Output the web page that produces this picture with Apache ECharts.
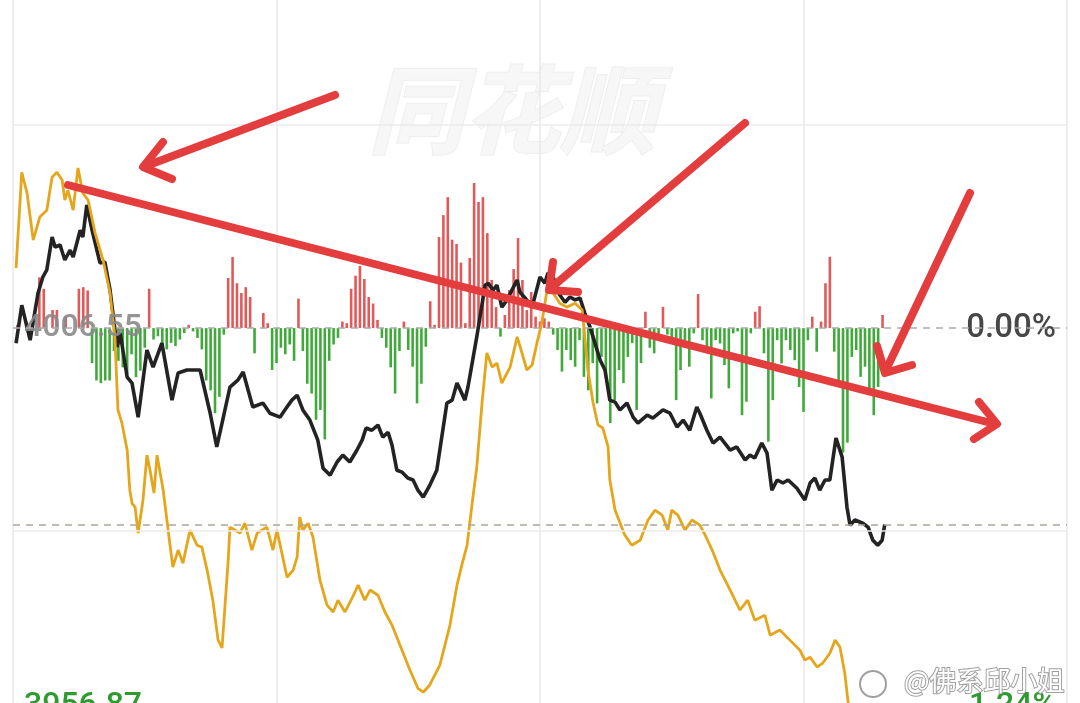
<!DOCTYPE html>
<html>
<head>
<meta charset="utf-8">
<script src="https://cdn.jsdelivr.net/npm/echarts@6/dist/echarts.min.js"></script>
<style>
html,body{margin:0;padding:0;background:#fff;}
#c{width:1080px;height:703px;}
</style>
</head>
<body>
<div id="c"></div>
<script>
// ---- data (minutes since 9:30 on the trading clock, % change vs. previous close) ----
const prevClose = 4006.55;
const visiblePctTop = 1.002;        // % at the top edge of the visible window
const visiblePctBottom = -1.145;    // % at the bottom edge of the visible window
const gridPct = [0.62, -0.62];      // light horizontal grid lines
const lastPct = -0.60;              // latest price level (dashed line)
const priceLabels = ['4006.55', '3956.87'];
const pctLabels = ['0.00%', '-1.24%'];

// black line: index % change [minute, pct]
const indexLine = [
[0.7,-0.046],[2.0,0.070],[3.9,-0.037],[5.7,0.107],[6.8,0.156],[7.7,0.178],[8.9,0.278],[9.6,0.247],
[10.7,0.254],[11.8,0.208],[13.0,0.238],[13.7,0.217],[15.3,0.299],[15.9,0.278],[16.8,0.376],[18.0,0.299],
[19.8,0.199],[20.9,0.202],[22.1,0.116],[23.7,-0.058],[24.4,-0.015],[26.0,-0.150],[27.1,-0.168],[28.5,-0.272],
[30.5,-0.067],[31.9,-0.119],[33.9,-0.046],[36.2,-0.220],[37.6,-0.137],[39.6,-0.128],[42.6,-0.128],[44.9,-0.260],
[46.4,-0.363],[47.6,-0.290],[49.4,-0.180],[51.2,-0.159],[52.4,-0.134],[54.6,-0.241],[56.9,-0.229],[58.5,-0.260],
[60.8,-0.272],[61.9,-0.250],[63.5,-0.220],[64.7,-0.205],[66.0,-0.250],[67.6,-0.281],[69.4,-0.342],[70.6,-0.428],
[72.2,-0.449],[73.8,-0.409],[75.1,-0.388],[76.7,-0.409],[78.3,-0.373],[79.5,-0.342],[80.4,-0.305],[81.7,-0.312],
[83.1,-0.296],[84.2,-0.333],[85.4,-0.318],[86.3,-0.357],[87.4,-0.434],[88.6,-0.440],[89.9,-0.458],[91.1,-0.464],
[92.2,-0.495],[93.4,-0.516],[94.9,-0.480],[96.5,-0.434],[98.8,-0.229],[100.0,-0.220],[101.1,-0.168],[102.9,-0.220],
[103.6,-0.180],[105.6,-0.027],[107.5,0.131],[108.2,0.137],[109.3,0.116],[110.2,0.131],[111.3,0.064],[112.5,0.086],
[113.6,0.116],[114.8,0.147],[115.4,0.110],[116.6,0.092],[118.2,0.064],[120.0,0.156],[121.1,0.137],[121.8,0.168],
[123.0,0.156],[124.5,0.101],[125.7,0.079],[126.8,0.095],[128.0,0.086],[129.1,0.092],[130.2,0.046],[131.4,0.003],
[133.7,-0.098],[134.8,-0.128],[135.9,-0.220],[137.1,-0.226],[138.2,-0.250],[139.8,-0.229],[141.2,-0.272],[142.3,-0.290],
[144.4,-0.266],[145.7,-0.275],[148.0,-0.250],[149.6,-0.260],[151.2,-0.302],[152.6,-0.281],[154.1,-0.312],[155.7,-0.241],
[156.4,-0.260],[158.0,-0.312],[159.4,-0.351],[161.0,-0.333],[163.3,-0.373],[164.8,-0.363],[166.7,-0.403],[167.8,-0.388],
[168.9,-0.397],[170.5,-0.351],[171.7,-0.382],[172.8,-0.495],[174.0,-0.464],[175.3,-0.473],[176.5,-0.464],[178.5,-0.489],
[180.3,-0.525],[181.5,-0.473],[182.6,-0.458],[183.7,-0.495],[184.9,-0.464],[186.0,-0.464],[187.4,-0.336],[188.8,-0.394],
[189.9,-0.547],[190.6,-0.602],[191.7,-0.586],[193.5,-0.596],[194.7,-0.608],[195.8,-0.648],[196.9,-0.663],[197.9,-0.648],
[198.5,-0.600]
];

// yellow line: second series % change [minute, pct]
const yellowLine = [
[0.7,0.183],[2.0,0.476],[3.2,0.412],[4.6,0.269],[6.1,0.339],[7.7,0.360],[8.9,0.461],[10.0,0.476],
[11.2,0.452],[11.8,0.391],[12.5,0.421],[13.7,0.360],[14.8,0.489],[15.9,0.412],[17.1,0.391],[18.7,0.290],
[20.5,0.208],[22.1,0.107],[23.2,-0.027],[23.9,-0.250],[24.8,-0.290],[26.0,-0.373],[26.6,-0.495],[27.1,-0.535],
[27.8,-0.547],[28.5,-0.626],[29.6,-0.525],[30.5,-0.388],[31.2,-0.434],[32.1,-0.504],[32.8,-0.388],[34.2,-0.495],
[35.7,-0.657],[36.4,-0.730],[37.6,-0.678],[38.7,-0.718],[40.3,-0.617],[41.9,-0.663],[43.0,-0.669],[44.2,-0.739],
[45.5,-0.831],[46.7,-0.953],[47.6,-0.977],[49.0,-0.709],[49.4,-0.608],[51.7,-0.626],[52.8,-0.596],[54.4,-0.678],
[55.6,-0.626],[57.8,-0.608],[59.2,-0.678],[60.1,-0.617],[62.4,-0.761],[63.8,-0.739],[64.7,-0.699],[65.3,-0.577],
[66.0,-0.617],[67.2,-0.596],[68.3,-0.638],[69.9,-0.770],[71.5,-0.846],[72.9,-0.867],[74.0,-0.831],[75.6,-0.867],
[77.2,-0.825],[78.6,-0.785],[80.1,-0.831],[81.3,-0.800],[83.1,-0.816],[84.7,-0.867],[86.3,-0.907],[88.1,-0.968],
[90.4,-1.045],[92.2,-1.100],[93.4,-1.112],[94.9,-1.090],[97.2,-1.029],[99.5,-0.907],[101.1,-0.785],[102.2,-0.724],
[103.4,-0.663],[104.5,-0.541],[105.6,-0.425],[106.8,-0.229],[107.9,-0.076],[109.1,-0.119],[110.2,-0.107],[111.3,-0.168],
[113.2,-0.119],[114.8,-0.027],[115.9,-0.076],[117.0,-0.128],[118.2,-0.113],[119.3,-0.046],[120.4,0.015],[121.6,0.116],
[123.0,0.107],[124.5,0.076],[126.1,0.064],[128.0,0.076],[129.6,0.055],[130.2,-0.027],[130.9,-0.128],[132.1,-0.229],
[133.2,-0.296],[134.3,-0.305],[135.5,-0.363],[135.9,-0.464],[137.1,-0.556],[139.3,-0.632],[140.9,-0.663],[142.8,-0.648],
[144.6,-0.586],[146.2,-0.556],[147.8,-0.571],[149.1,-0.617],[150.0,-0.556],[151.4,-0.571],[153.0,-0.617],[154.6,-0.586],
[156.4,-0.602],[157.6,-0.632],[159.2,-0.678],[161.0,-0.739],[163.3,-0.800],[165.5,-0.861],[167.3,-0.831],[168.9,-0.892],
[171.2,-0.877],[172.4,-0.938],[174.6,-0.922],[176.9,-0.953],[179.2,-0.984],[180.3,-1.014],[181.5,-1.005],[183.1,-1.035],
[184.4,-1.023],[186.0,-0.993],[187.2,-0.953],[188.3,-0.974],[189.4,-1.054],[190.1,-1.136],[191.0,-1.228],[194.0,-1.300],
[198.5,-1.290]
];

// red / green bars, one per minute starting at minute 0 (same % scale)
const flowBars = [
0,0.01,0,0.02,0,0,0.155,0.12,0,0.055,
0.055,0,0.035,0,0,0.12,0.125,0.115,-0.107,-0.16,
-0.168,-0.16,-0.16,-0.07,-0.10,-0.12,-0.14,-0.08,-0.15,-0.13,
-0.06,0.12,-0.035,-0.025,-0.055,-0.065,-0.045,-0.055,-0.035,-0.015,
0.01,-0.01,-0.03,-0.065,-0.16,-0.19,-0.26,-0.21,-0.02,0.153,
0.217,0.137,0.107,0.125,0.095,-0.077,0,0.046,0.015,-0.128,
-0.107,-0.06,-0.08,-0.05,-0.10,0.09,-0.07,-0.17,-0.20,-0.28,
-0.25,-0.34,-0.10,-0.05,-0.03,0.02,0.015,0.12,0.16,0.19,
0.15,0.095,0.075,0.025,-0.03,-0.06,-0.12,-0.2,-0.07,0.02,
-0.067,-0.118,-0.23,-0.17,-0.057,0.082,0.01,0.278,0.345,0.40,
0.27,0.257,0.2,0.015,0.214,0.443,0.385,0.40,0.29,0.147,
0.064,-0.026,0.04,0.116,0.18,0.275,0.147,0.055,0.11,0.035,
0.02,0.03,0.02,-0.02,-0.067,-0.133,-0.067,-0.098,-0.118,-0.037,
-0.149,-0.19,-0.107,-0.23,-0.088,-0.153,-0.29,-0.22,-0.128,-0.168,
-0.088,-0.046,-0.25,-0.107,0.05,-0.06,-0.077,-0.03,0.065,-0.02,
-0.037,-0.22,-0.128,-0.037,-0.118,-0.016,0.104,-0.037,-0.067,-0.215,
-0.037,-0.047,-0.113,-0.184,-0.016,-0.01,-0.266,-0.225,-0.016,0.05,
0.067,-0.077,-0.347,-0.22,-0.037,-0.108,-0.037,-0.067,-0.098,-0.18,
-0.256,-0.037,0.035,-0.072,0.02,0.137,0.218,-0.072,-0.18,-0.38,
-0.35,-0.088,-0.067,-0.149,-0.118,-0.2,-0.266,-0.18,0.04
];

// ---- chart ----
const chart = echarts.init(document.getElementById('c'), null, {renderer:'canvas'});
const RED = '#e05a5a', GREEN = '#3faa3a';
const ARROW = '#e33d3d';

function arrowLine(points){
  return {type:'polyline', z:100, shape:{points:points},
    style:{stroke:ARROW, lineWidth:8, lineCap:'round', lineJoin:'round', fill:null}};
}

const option = {
  animation:false,
  backgroundColor:'#ffffff',
  grid:{left:13, right:13, top:0, bottom:0},
  xAxis:{type:'value', min:0, max:240, interval:60,
    axisLine:{show:false}, axisTick:{show:false}, axisLabel:{show:false},
    splitLine:{show:true, lineStyle:{color:'#e9e9e9', width:1.5}}},
  yAxis:{type:'value', min:visiblePctBottom, max:visiblePctTop,
    axisLine:{show:false}, axisTick:{show:false}, axisLabel:{show:false},
    splitLine:{show:false}},
  series:[
    {type:'line', data:[], z:1, silent:true,
      markLine:{silent:true, symbol:'none', label:{show:false}, animation:false,
        data:[
          {yAxis:gridPct[0], lineStyle:{color:'#ebebeb', width:1.5, type:'solid'}},
          {yAxis:gridPct[1], lineStyle:{color:'#ebebeb', width:1.5, type:'solid'}},
          {yAxis:0, lineStyle:{color:'#aaaaaa', width:1.6, type:[7,6]}},
          {yAxis:lastPct, lineStyle:{color:'#ada79c', width:1.6, type:[7,6]}}
        ]}},
    {type:'bar', z:2, barWidth:2.6, silent:true,
      data:flowBars.map((v,i)=>({value:[i,v], itemStyle:{color: v>=0?RED:GREEN}}))},
    {type:'line', z:3, data:indexLine, showSymbol:false, smooth:false,
      lineStyle:{color:'#232323', width:3.6}},
    {type:'line', z:4, data:yellowLine, showSymbol:false, smooth:false,
      lineStyle:{color:'#e5a61c', width:2.8}}
  ],
  graphic:[
    {type:'text', z:0, x:368, y:62,
      style:{text:'同花顺', font:'italic bold 96px "Noto Sans CJK SC"', fill:'#f7f7f7', stroke:'#eeeeee', lineWidth:2}},
    {type:'text', z:5, x:24, y:328,
      style:{text:priceLabels[0], font:'500 32px Roboto', fill:'#8a8a8a', opacity:0.9, verticalAlign:'middle'}},
    {type:'text', z:5, x:1056, y:329,
      style:{text:pctLabels[0], font:'500 33px Roboto', fill:'#474747', align:'right', verticalAlign:'middle'}},
    {type:'text', z:5, x:24, y:690,
      style:{text:priceLabels[1], font:'500 32px Roboto', fill:'#2f9a2f', verticalAlign:'top'}},
    {type:'text', z:5, x:1056, y:690,
      style:{text:pctLabels[1], font:'500 32px Roboto', fill:'#2f9a2f', align:'right', verticalAlign:'top'}},
    {type:'circle', z:90, shape:{cx:873, cy:684, r:13},
      style:{fill:'#ffffff', stroke:'#a0a0a0', lineWidth:2}},
    {type:'text', z:90, x:904, y:681,
      style:{text:'@佛系邱小姐', font:'27px "Noto Sans CJK SC"', fill:'#ffffff', stroke:'#a0a0a0', lineWidth:2, verticalAlign:'middle'}},
    arrowLine([[335,95],[146,166]]),
    arrowLine([[163,142],[143,167],[172,179]]),
    arrowLine([[68,185],[995,424]]),
    arrowLine([[979,402],[997,424],[974,439]]),
    arrowLine([[745,123],[551,288]]),
    arrowLine([[553,262],[549,290],[578,292]]),
    arrowLine([[970,193],[885,372]]),
    arrowLine([[877,346],[885,373],[912,365]])
  ]
};
chart.setOption(option);
</script>
</body>
</html>
